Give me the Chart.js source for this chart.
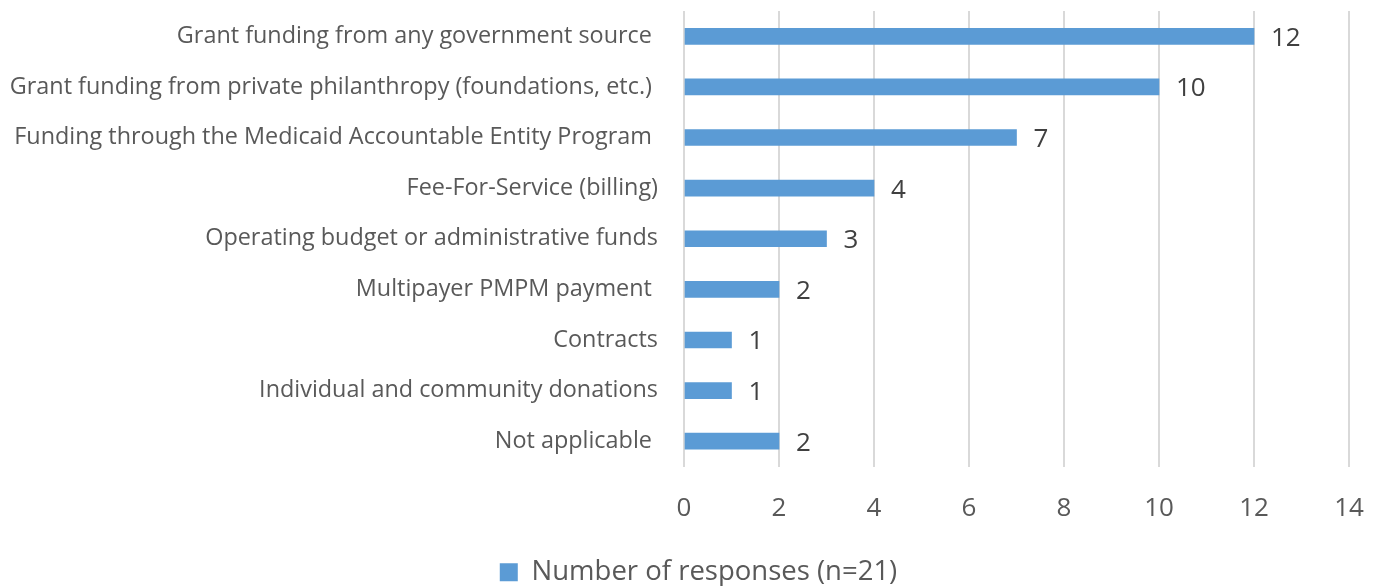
<!DOCTYPE html>
<html><head><meta charset="utf-8">
<script src="https://cdn.jsdelivr.net/npm/chart.js@4.4.1/dist/chart.umd.min.js"></script>
<style>html,body{margin:0;padding:0;background:#fff}#wrap{width:1380px;height:586px}</style>
</head><body><div id="wrap"><canvas id="c" width="1380" height="586"></canvas></div>
<script>
const categories = [
  "Grant funding from any government source ",
  "Grant funding from private philanthropy (foundations, etc.) ",
  "Funding through the Medicaid Accountable Entity Program ",
  "Fee-For-Service (billing)",
  "Operating budget or administrative funds",
  "Multipayer PMPM payment ",
  "Contracts",
  "Individual and community donations",
  "Not applicable "
];
const responses = [12, 10, 7, 4, 3, 2, 1, 1, 2];
const seriesName = "Number of responses (n=21)";
const xMin = 0, xMax = 14, xStep = 2;

const FONT = "'Open Sans', 'Liberation Sans', sans-serif";

const valueLabels = {
  id: 'valueLabels',
  afterLayout(chart) {
    if (chart.legend) { chart.legend.left += 24; chart.legend.right += 24; }
  },
  afterDatasetsDraw(chart) {
    const ctx = chart.ctx;
    const meta = chart.getDatasetMeta(0);
    ctx.save();
    ctx.font = "26px " + FONT;
    ctx.fillStyle = "#404040";
    ctx.textAlign = "left";
    ctx.textBaseline = "middle";
    meta.data.forEach((bar, i) => {
      ctx.fillText(String(chart.data.datasets[0].data[i]), bar.x + 17, bar.y + 2);
    });
    ctx.restore();
  }
};

new Chart(document.getElementById('c'), {
  type: 'bar',
  data: {
    labels: categories,
    datasets: [{
      label: seriesName,
      data: responses,
      backgroundColor: '#5B9BD5',
      borderWidth: 0,
      barThickness: 16
    }]
  },
  options: {
    indexAxis: 'y',
    responsive: false,
    animation: false,
    devicePixelRatio: 1,
    layout: { padding: { top: 11, right: 31, left: 0, bottom: -10 } },
    scales: {
      x: {
        min: xMin, max: xMax,
        ticks: { stepSize: xStep, color: '#595959', font: { family: FONT, size: 26 }, padding: 26 },
        grid: { color: '#D9D9D9', lineWidth: 2, drawTicks: false },
        border: { display: false },
        afterFit(scale) { scale.height = 90; scale.paddingLeft = 0; scale.paddingRight = 0; }
      },
      y: {
        ticks: { color: '#595959', font: { family: FONT, size: 23.4 }, padding: 26, autoSkip: false },
        grid: { display: false, drawTicks: false },
        border: { display: false },
        afterFit(scale) { scale.width = 684; scale.paddingTop = 0; scale.paddingBottom = 0; }
      }
    },
    plugins: {
      legend: {
        position: 'bottom',
        labels: {
          color: '#595959',
          font: { family: FONT, size: 27.5 },
          boxWidth: 18, boxHeight: 18,
          padding: 2,
          useBorderRadius: false
        }
      },
      tooltip: { enabled: false }
    }
  },
  plugins: [valueLabels]
});
</script></body></html>
